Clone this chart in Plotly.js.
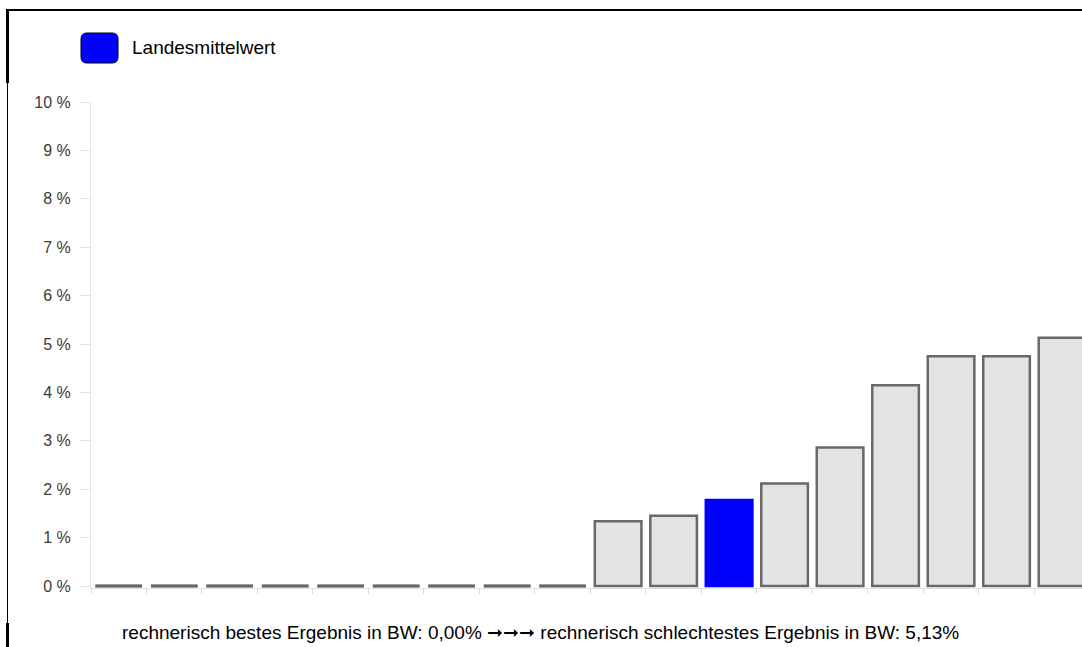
<!DOCTYPE html>
<html>
<head>
<meta charset="utf-8">
<script src="https://cdn.plot.ly/plotly-3.0.1.min.js"></script>
<style>
  html, body { margin: 0; padding: 0; background: #fff; overflow: hidden; }
  #wrap { position: relative; width: 1082px; height: 647px; }
  #chart { position: absolute; left: 0; top: 0; width: 1082px; height: 647px; }
  .edge { position: absolute; background: #000; z-index: 5; }
</style>
</head>
<body>
<div id="wrap">
  <div id="chart"></div>
  <!-- page frame around the chart box -->
  <div class="edge" style="left:7px; top:9px; width:1075px; height:2px;"></div>
  <div class="edge" style="left:6px; top:9px; width:3px; height:74px;"></div>
  <div class="edge" style="left:7px; top:83px; width:1px; height:540px;"></div>
  <div class="edge" style="left:6px; top:623px; width:3px; height:24px;"></div>
</div>
<script>
// Ranked results per location (percent), best to worst
const ranks = [1, 2, 3, 4, 5, 6, 7, 8, 9, 10, 11, 12, 13, 14, 15, 16, 17, 18];
const values = [0, 0, 0, 0, 0, 0, 0, 0, 0, 1.34, 1.45, 1.78, 2.12, 2.86, 4.15, 4.75, 4.75, 5.13];
const averageRank = 12;              // the state average bar
const legendLabel = 'Landesmittelwert';
const yTicks = [0, 1, 2, 3, 4, 5, 6, 7, 8, 9, 10];
const bestValue = '0,00%';
const worstValue = '5,13%';

const GREY_FILL = '#e3e3e3';
const GREY_LINE = '#686868';
const BLUE = '#0000ff';

const xs = ranks.map((r, i) => i);
const fills = ranks.map(r => r === averageRank ? BLUE : GREY_FILL);
const lines = ranks.map(r => r === averageRank ? BLUE : GREY_LINE);
const BAR_W = 0.84;

// zero-valued results collapse to a flat outline on the baseline
const zx = [], zy = [];
values.forEach((v, i) => {
  if (v === 0) { zx.push(i - BAR_W / 2, i + BAR_W / 2, null); zy.push(v, v, null); }
});

const traces = [
  {
    type: 'bar',
    x: xs,
    y: values,
    width: BAR_W,
    marker: { color: fills, line: { color: lines, width: 2.5 } },
    hoverinfo: 'y',
    showlegend: false
  },
  {
    type: 'scatter',
    mode: 'lines',
    x: zx,
    y: zy,
    line: { color: GREY_LINE, width: 3 },
    hoverinfo: 'skip',
    showlegend: false
  }
];

const layout = {
  width: 1082,
  height: 647,
  margin: { l: 91, r: 0, t: 102, b: 59 },
  paper_bgcolor: '#ffffff',
  plot_bgcolor: '#ffffff',
  font: { family: 'Liberation Sans, Arial, sans-serif', color: '#444' },
  bargap: 0,
  xaxis: {
    type: 'linear',
    range: [-0.5, 17.36],
    tickmode: 'array',
    tickvals: xs.map(x => x - 0.5),
    ticks: 'outside',
    ticklen: 5,
    tickcolor: '#dddddd',
    showticklabels: false,
    showgrid: false,
    zeroline: false,
    showline: true,
    linecolor: '#e2e2e2',
    linewidth: 1,
    fixedrange: true
  },
  yaxis: {
    range: [-0.04, 10],
    tickmode: 'array',
    tickvals: yTicks,
    ticktext: yTicks.map(t => t + ' %'),
    ticks: 'outside',
    ticklen: 10,
    tickcolor: '#e2e2e2',
    ticklabelstandoff: 6,
    tickfont: { size: 16, color: '#3a3a3a' },
    showgrid: false,
    zeroline: false,
    showline: true,
    linecolor: '#e2e2e2',
    linewidth: 1,
    fixedrange: true
  },
  shapes: [
    {
      type: 'path',
      xref: 'paper', yref: 'paper',
      xsizemode: 'pixel', ysizemode: 'pixel',
      xanchor: 0, yanchor: 1,
      path: 'M -4,39 L 21,39 Q 27,39 27,45 L 27,63 Q 27,69 21,69 L -4,69 Q -10,69 -10,63 L -10,45 Q -10,39 -4,39 Z',
      fillcolor: BLUE,
      line: { color: '#000', width: 1 }
    }
  ],
  annotations: [
    {
      xref: 'paper', yref: 'paper',
      x: 0.0395, y: 1.112,
      xanchor: 'left', yanchor: 'middle',
      text: legendLabel,
      showarrow: false,
      font: { size: 19, color: '#000' }
    },
    {
      xref: 'paper', yref: 'paper',
      x: 0.454, y: -0.091,
      xanchor: 'center', yanchor: 'middle',
      text: 'rechnerisch bestes Ergebnis in BW: ' + bestValue + ' \u279E\u279E\u279E rechnerisch schlechtestes Ergebnis in BW: ' + worstValue,
      showarrow: false,
      font: { size: 19, color: '#000' }
    }
  ]
};

Plotly.newPlot('chart', traces, layout, { displayModeBar: false, staticPlot: true });
</script>
</body>
</html>
